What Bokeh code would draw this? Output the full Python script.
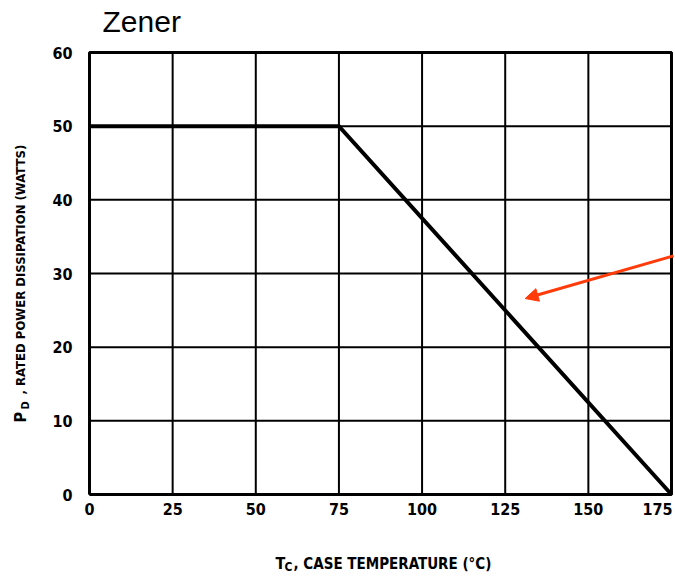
import math
from bokeh.plotting import figure
from bokeh.models import Range1d, Arrow, NormalHead, ColumnDataSource
from bokeh.core.properties import value
from bokeh.embed import file_html
from bokeh.resources import INLINE

# ---- data ----
x_ticks = [0, 25, 50, 75, 100, 125, 150, 175]
y_ticks = [0, 10, 20, 30, 40, 50, 60]
x_tick_labels = ["0", "25", "50", "75", "100", "125", "150", "175"]
y_tick_labels = ["0", "10", "20", "30", "40", "50", "60"]
curve_temp = [0, 75, 175]
curve_power = [50, 50, 0]
arrow_tail = [175.6, 32.4]
arrow_tip = [131.0, 26.6]
title_text = "Zener"
x_label_parts = ["T", "C", ", CASE TEMPERATURE (°C)"]
y_label_parts = ["P", "D", ", RATED POWER DISSIPATION (WATTS)"]

# ---- layout (pixels) ----
W, H = 675, 579
FRAME_L, FRAME_R, FRAME_T, FRAME_B = 89, 671, 52, 494
COND = "DejaVu Sans Condensed"
RED = "#ff3b0a"

xmin, xmax = x_ticks[0], x_ticks[-1]
ymin, ymax = y_ticks[0], y_ticks[-1]
sx = (FRAME_R - FRAME_L) / (xmax - xmin)
sy = (FRAME_B - FRAME_T) / (ymax - ymin)
x_range = Range1d(xmin - FRAME_L / sx, xmax + (W - FRAME_R) / sx)
y_range = Range1d(ymin - (H - FRAME_B) / sy, ymax + FRAME_T / sy)

p = figure(width=W, height=H, output_backend="svg", toolbar_location=None,
           x_range=x_range, y_range=y_range, min_border=0)
p.axis.visible = False
p.grid.visible = False
p.outline_line_color = None
p.background_fill_color = "white"
p.border_fill_color = "white"

# grid
p.segment(x0=x_ticks, y0=[ymin] * len(x_ticks), x1=x_ticks, y1=[ymax] * len(x_ticks),
          line_color="black", line_width=2)
p.segment(x0=[xmin] * len(y_ticks), y0=y_ticks, x1=[xmax] * len(y_ticks), y1=y_ticks,
          line_color="black", line_width=2)
# frame border
p.line([xmin, xmax, xmax, xmin, xmin], [ymin, ymin, ymax, ymax, ymin],
       line_color="black", line_width=3)

# derating curve
p.line(curve_temp, curve_power, line_width=4, color="black", line_join="miter")

# red arrow
p.add_layout(Arrow(end=NormalHead(size=13, fill_color=RED, line_color=RED),
                   x_start=arrow_tail[0], y_start=arrow_tail[1],
                   x_end=arrow_tip[0], y_end=arrow_tip[1],
                   line_color=RED, line_width=3))

# tick labels
xt_src = ColumnDataSource(dict(x=x_ticks, y=[ymin] * len(x_ticks), t=x_tick_labels,
                               xo=[0] * (len(x_ticks) - 1) + [-14]))
p.text(x="x", y="y", text="t", x_offset="xo", y_offset=8, source=xt_src,
       text_font=value(COND), text_font_style="bold", text_font_size="16px",
       text_align="center", text_baseline="top", text_color="black")
p.text(x=[xmin] * len(y_ticks), y=y_ticks, text=y_tick_labels, x_offset=-17,
       text_font=value(COND), text_font_style="bold", text_font_size="16px",
       text_align="right", text_baseline="middle", text_color="black")

# title
p.text(x=[xmin], y=[ymax], text=[title_text], x_offset=13, y_offset=-31,
       text_font=value("Liberation Sans"), text_font_size="30px",
       text_align="left", text_baseline="alphabetic", text_color="black")

def lab(text, xo, yo, size, angle=0.0):
    p.text(x=[xmin], y=[ymin], text=[text], x_offset=xo, y_offset=yo, angle=angle,
           text_font=value(COND), text_font_style="bold", text_font_size=size,
           text_align="left", text_baseline="alphabetic", text_color="black")

# x axis label with subscript
lab(x_label_parts[0], 186, 69, "16px")
lab(x_label_parts[1], 195, 72, "12px")
lab(x_label_parts[2], 204, 69, "15px")

# y axis label with subscript (rotated)
lab(y_label_parts[0], -69, -72, "16px", math.pi / 2)
lab(y_label_parts[1], -64, -85, "11px", math.pi / 2)
lab(y_label_parts[2], -69, -100, "13px", math.pi / 2)

open("out.html", "w").write(file_html(p, INLINE))
